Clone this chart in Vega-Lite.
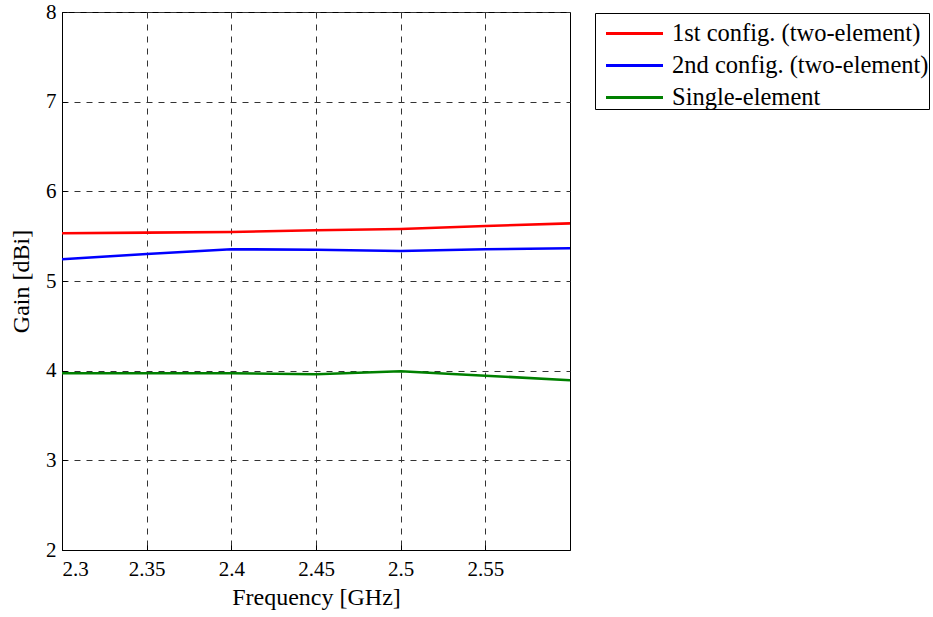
{
  "$schema": "https://vega.github.io/schema/vega-lite/v6.json",
  "width": 508,
  "height": 538,
  "autosize": {"type": "none"},
  "padding": {"left": 62, "top": 12, "right": 363, "bottom": 67},
  "background": "white",
  "config": {
    "font": "Liberation Serif",
    "view": {"stroke": "black", "strokeWidth": 1},
    "axis": {"labelFont": "Liberation Serif", "titleFont": "Liberation Serif"},
    "legend": {"labelFont": "Liberation Serif", "titleFont": "Liberation Serif"}
  },
  "data": {
    "values": [
      {"f": 2.3, "g": 5.532, "s": "1st config. (two-element)"},
      {"f": 2.35, "g": 5.539, "s": "1st config. (two-element)"},
      {"f": 2.4, "g": 5.547, "s": "1st config. (two-element)"},
      {"f": 2.45, "g": 5.566, "s": "1st config. (two-element)"},
      {"f": 2.5, "g": 5.58, "s": "1st config. (two-element)"},
      {"f": 2.55, "g": 5.613, "s": "1st config. (two-element)"},
      {"f": 2.6, "g": 5.643, "s": "1st config. (two-element)"},
      {"f": 2.3, "g": 5.242, "s": "2nd config. (two-element)"},
      {"f": 2.35, "g": 5.301, "s": "2nd config. (two-element)"},
      {"f": 2.4, "g": 5.354, "s": "2nd config. (two-element)"},
      {"f": 2.45, "g": 5.349, "s": "2nd config. (two-element)"},
      {"f": 2.5, "g": 5.335, "s": "2nd config. (two-element)"},
      {"f": 2.55, "g": 5.354, "s": "2nd config. (two-element)"},
      {"f": 2.6, "g": 5.365, "s": "2nd config. (two-element)"},
      {"f": 2.3, "g": 3.971, "s": "Single-element"},
      {"f": 2.35, "g": 3.971, "s": "Single-element"},
      {"f": 2.4, "g": 3.971, "s": "Single-element"},
      {"f": 2.45, "g": 3.96, "s": "Single-element"},
      {"f": 2.5, "g": 3.993, "s": "Single-element"},
      {"f": 2.55, "g": 3.944, "s": "Single-element"},
      {"f": 2.6, "g": 3.893, "s": "Single-element"}
    ]
  },
  "mark": {"type": "line", "strokeWidth": 2.6, "clip": true},
  "encoding": {
    "x": {
      "field": "f",
      "type": "quantitative",
      "scale": {"domain": [2.3, 2.6], "nice": false, "zero": false},
      "axis": {
        "title": "Frequency [GHz]",
        "values": [2.3, 2.35, 2.4, 2.45, 2.5, 2.55],
        "format": "~g",
        "labelFontSize": 21,
        "labelColor": "black",
        "labelPadding": 13,
        "tickSize": -5,
        "tickColor": "black",
        "domainColor": "black",
        "titleFontSize": 24,
        "titleFontWeight": "normal",
        "titleColor": "black",
        "titlePadding": 6,
        "grid": true,
        "gridDash": [6, 6],
        "gridColor": "#333333",
        "gridOpacity": 1
      }
    },
    "y": {
      "field": "g",
      "type": "quantitative",
      "scale": {"domain": [2, 8], "nice": false, "zero": false},
      "axis": {
        "title": "Gain [dBi]",
        "values": [2, 3, 4, 5, 6, 7, 8],
        "labelFontSize": 21,
        "labelColor": "black",
        "labelPadding": 11,
        "tickSize": -5,
        "tickColor": "black",
        "domainColor": "black",
        "titleFontSize": 24,
        "titleFontWeight": "normal",
        "titleColor": "black",
        "titlePadding": 12,
        "grid": true,
        "gridDash": [6, 6],
        "gridColor": "#333333",
        "gridOpacity": 1
      }
    },
    "color": {
      "field": "s",
      "type": "nominal",
      "scale": {
        "domain": ["1st config. (two-element)", "2nd config. (two-element)", "Single-element"],
        "range": ["#ff0000", "#0000ff", "#008000"]
      },
      "legend": {
        "title": null,
        "orient": "none",
        "legendX": 533,
        "legendY": 1,
        "symbolType": "M-1.5,0H1.5",
        "symbolSize": 1444,
        "symbolStrokeWidth": 3,
        "symbolOffset": 19,
        "labelFontSize": 24.5,
        "labelColor": "black",
        "labelOffset": 17,
        "labelLimit": 400,
        "rowPadding": 0,
        "padding": 0,
        "strokeColor": "black",
        "fillColor": "white"
      }
    }
  }
}
